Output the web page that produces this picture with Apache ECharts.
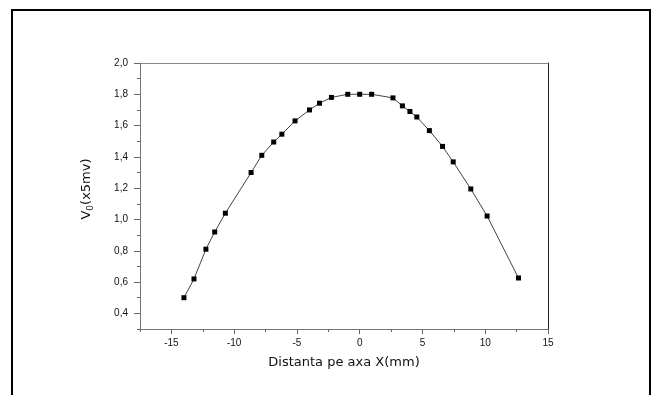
<!DOCTYPE html>
<html>
<head>
<meta charset="utf-8">
<script src="https://cdn.jsdelivr.net/npm/echarts@6/dist/echarts.min.js"></script>
<style>
  html, body { margin: 0; padding: 0; background: #fff; }
  #chart { width: 652px; height: 395px; }
  #frame {
    position: absolute; left: 11px; top: 9px; width: 640px; height: 400px;
    box-sizing: border-box; border: 2px solid #000; border-bottom: none;
    pointer-events: none;
  }
</style>
</head>
<body>
<div id="chart"></div>
<div id="frame"></div>
<script>
// distance along X axis (mm)
const xData = [-14, -13.2, -12.25, -11.55, -10.7, -8.65, -7.8, -6.85, -6.2, -5.15, -4, -3.2, -2.25,
  -0.95, 0, 0.95, 2.65, 3.4, 4, 4.55, 5.55, 6.6, 7.45, 8.85, 10.15, 12.65];
// V0 (x5 mV)
const vData = [0.50, 0.62, 0.81, 0.92, 1.04, 1.30, 1.41, 1.495, 1.545, 1.63, 1.70, 1.743, 1.78,
  1.80, 1.80, 1.80, 1.777, 1.726, 1.69, 1.655, 1.568, 1.467, 1.368, 1.195, 1.022, 0.626];

const xTicks = [-15, -10, -5, 0, 5, 10, 15];
const yTicks = [0.4, 0.6, 0.8, 1.0, 1.2, 1.4, 1.6, 1.8, 2.0];

const X_MIN = -17.5, X_MAX = 15, Y_MIN = 0.3, Y_MAX = 2.0;

const chart = echarts.init(document.getElementById('chart'));

const labelFont = { fontFamily: 'Liberation Sans, Arial, sans-serif', fontSize: 10, color: '#111' };
const nameFont = { fontFamily: 'DejaVu Sans, sans-serif', fontSize: 13, color: '#111' };

const option = {
  animation: false,
  backgroundColor: '#fff',
  grid: { left: 140, right: 104, top: 63, bottom: 66, outerBoundsMode: 'none' },
  xAxis: [
    {
      // main axis: minor ticks every 2.5
      type: 'value', position: 'bottom', min: X_MIN, max: X_MAX, interval: 2.5,
      axisLine: { show: true, onZero: false, lineStyle: { color: '#777', width: 1 } },
      axisTick: { length: 3, lineStyle: { color: '#666' } },
      axisLabel: { show: false },
      splitLine: { show: false },
      name: 'Distanta pe axa X(mm)',
      nameLocation: 'middle',
      nameGap: 27,
      nameTextStyle: nameFont
    },
    {
      // major ticks + labels
      type: 'value', position: 'bottom', min: X_MIN, max: X_MAX,
      axisLine: { show: false, onZero: false },
      axisTick: { length: 5, customValues: xTicks, lineStyle: { color: '#666' } },
      axisLabel: Object.assign({ customValues: xTicks, margin: 9 }, labelFont),
      splitLine: { show: false }
    },
    {
      type: 'value', position: 'top', min: X_MIN, max: X_MAX,
      axisLine: { show: true, onZero: false, lineStyle: { color: '#888' } },
      axisTick: { show: false }, axisLabel: { show: false }, splitLine: { show: false }
    }
  ],
  yAxis: [
    {
      type: 'value', position: 'left', min: Y_MIN, max: Y_MAX, interval: 0.1,
      axisLine: { show: true, onZero: false, lineStyle: { color: '#777', width: 1 } },
      axisTick: { show: true, length: 3, lineStyle: { color: '#666' } },
      axisLabel: { show: false },
      splitLine: { show: false },
      name: '{a|V}{b|0}{a|(x5mv)}',
      nameLocation: 'middle',
      nameGap: 45,
      nameTextStyle: {
        padding: [0, 0, 0, 14],
        rich: {
          a: nameFont,
          b: { fontFamily: 'DejaVu Sans, sans-serif', fontSize: 9, color: '#111', padding: [8, 0, 0, 0] }
        }
      }
    },
    {
      type: 'value', position: 'left', min: Y_MIN, max: Y_MAX,
      axisLine: { show: false, onZero: false },
      axisTick: { show: true, length: 6, customValues: yTicks, lineStyle: { color: '#666' } },
      axisLabel: Object.assign({
        customValues: yTicks, margin: 12,
        formatter: v => v.toFixed(1).replace('.', ',')
      }, labelFont),
      splitLine: { show: false }
    },
    {
      type: 'value', position: 'right', min: Y_MIN, max: Y_MAX,
      axisLine: { show: true, onZero: false, lineStyle: { color: '#222' } },
      axisTick: { show: false }, axisLabel: { show: false }, splitLine: { show: false }
    }
  ],
  series: [
    {
      type: 'line',
      xAxisIndex: 0,
      yAxisIndex: 0,
      data: xData.map((x, i) => [x, vData[i]]),
      symbol: 'rect',
      symbolSize: 5,
      itemStyle: { color: '#000' },
      lineStyle: { color: '#444', width: 1 }
    }
  ]
};

chart.setOption(option);
</script>
</body>
</html>
